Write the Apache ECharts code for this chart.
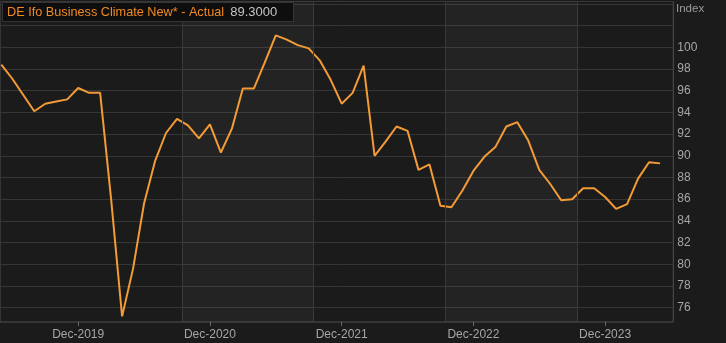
<!DOCTYPE html>
<html><head><meta charset="utf-8">
<script src="https://cdn.jsdelivr.net/npm/echarts@6/dist/echarts.min.js"></script>
<style>html,body{margin:0;padding:0;background:#1b1b1b}#c{width:726px;height:343px}</style>
</head><body><div id="c"></div>
<script>
// Monthly observations, May 2019 .. May 2024
const firstMonthIndex = 5; // months counted from Dec 2018 (May 2019 = 5)
const values = [
  98.4, 97.1, 95.6, 94.1, 94.8, 95.0, 95.2, 96.25,            // 2019 May-Dec
  95.8, 95.8, 86.0, 75.2, 79.6, 85.6, 89.5, 92.1, 93.4, 92.8, 91.6, 92.9, // 2020
  90.3, 92.5, 96.2, 96.2, 98.6, 101.1, 100.7, 100.2, 99.9, 98.8, 97.0, 94.8, // 2021
  95.8, 98.3, 90.0, 91.3, 92.7, 92.3, 88.7, 89.2, 85.4, 85.25, 86.8, 88.6, // 2022
  89.9, 90.8, 92.7, 93.1, 91.4, 88.7, 87.4, 85.9, 86.0, 87.0, 87.0, 86.2,  // 2023
  85.1, 85.55, 87.9, 89.4, 89.3                                // 2024 Jan-May
];
const tickMonths = [12, 24, 36, 48, 60];
const tickLabels = ['Dec-2019', 'Dec-2020', 'Dec-2021', 'Dec-2022', 'Dec-2023'];
const bandEdgeMonths = [21.45, 33.45, 45.45, 57.45];
const seriesName = 'DE Ifo Business Climate New* - Actual';
const unitName = 'Index';

const lastValue = values[values.length - 1];
const seriesData = values.map((v, i) => [firstMonthIndex + i, v]);
const FONT = '"Liberation Sans", Arial, sans-serif';

const chart = echarts.init(document.getElementById('c'), null, {renderer: 'canvas'});
chart.setOption({
  backgroundColor: '#1b1b1b',
  animation: false,
  textStyle: {fontFamily: FONT},
  title: [{
    left: 2, top: 2,
    text: '{a|' + seriesName + '}{b|' + lastValue.toFixed(4) + '}',
    backgroundColor: '#0e0e0e',
    borderColor: '#353535', borderWidth: 1,
    padding: [3, 17, 3, 5],
    textStyle: {
      fontFamily: FONT, fontWeight: 'normal',
      rich: {
        a: {color: '#f08a26', fontSize: 12.7, lineHeight: 14, fontWeight: 'normal', fontFamily: FONT},
        b: {color: '#c4c4c4', fontSize: 13, lineHeight: 14, fontWeight: 'normal', padding: [0, 0, 0, 6], fontFamily: FONT}
      }
    }
  }, {
    left: 676, top: 3,
    text: unitName,
    padding: 0,
    textStyle: {color: '#9a9a9a', fontSize: 11.5, fontWeight: 'normal', fontFamily: FONT}
  }],
  grid: {
    left: -1, right: 52.7, top: 1.5, bottom: 21,
    show: true, backgroundColor: '#1b1b1b', borderColor: '#505050', borderWidth: 1
  },
  xAxis: {
    type: 'value',
    min: 4.878, max: 66.21,
    axisLine: {show: false},
    splitLine: {show: false},
    axisTick: {show: true, length: 4, customValues: tickMonths, lineStyle: {color: '#6a6a6a'}},
    axisLabel: {
      customValues: tickMonths,
      color: '#a6a6a6', fontSize: 12, margin: 7, fontFamily: FONT,
      formatter: v => tickLabels[tickMonths.indexOf(Math.round(v))] || ''
    }
  },
  yAxis: {
    type: 'value', position: 'right',
    min: 74.68, max: 104.22, splitNumber: 15,
    axisLine: {show: false}, axisTick: {show: false},
    splitLine: {show: true, lineStyle: {color: '#363636', width: 1}},
    axisLabel: {
      color: '#a6a6a6', fontSize: 12, margin: 4, fontFamily: FONT,
      showMinLabel: false, showMaxLabel: false,
      formatter: v => (v > 100 || v % 2 !== 0) ? '' : String(v)
    }
  },
  series: [{
    type: 'line',
    name: 'bands',
    data: [],
    silent: true,
    markArea: {
      silent: true,
      itemStyle: {color: 'rgba(255,255,255,0.035)'},
      data: [
        [{xAxis: bandEdgeMonths[0]}, {xAxis: bandEdgeMonths[1]}],
        [{xAxis: bandEdgeMonths[2]}, {xAxis: bandEdgeMonths[3]}]
      ]
    },
    markLine: {
      silent: true, symbol: 'none',
      label: {show: false},
      lineStyle: {color: '#3a3a3a', width: 1, type: 'solid'},
      data: bandEdgeMonths.map(m => ({xAxis: m}))
    }
  }, {
    type: 'line',
    name: seriesName,
    data: seriesData,
    showSymbol: false,
    symbol: 'none',
    lineStyle: {color: '#f39b36', width: 2},
    itemStyle: {color: '#f39b36'},
    markLine: {
      silent: true, symbol: 'none',
      lineStyle: {opacity: 0},
      label: {
        show: true, position: 'end', distance: 1,
        formatter: () => lastValue.toFixed(4),
        backgroundColor: '#f7a035', color: '#2a1c0a',
        fontSize: 12, lineHeight: 12, padding: [0, 2, 0, 3], fontFamily: FONT
      },
      data: [{yAxis: lastValue}]
    }
  }]
});
</script>
</body></html>
